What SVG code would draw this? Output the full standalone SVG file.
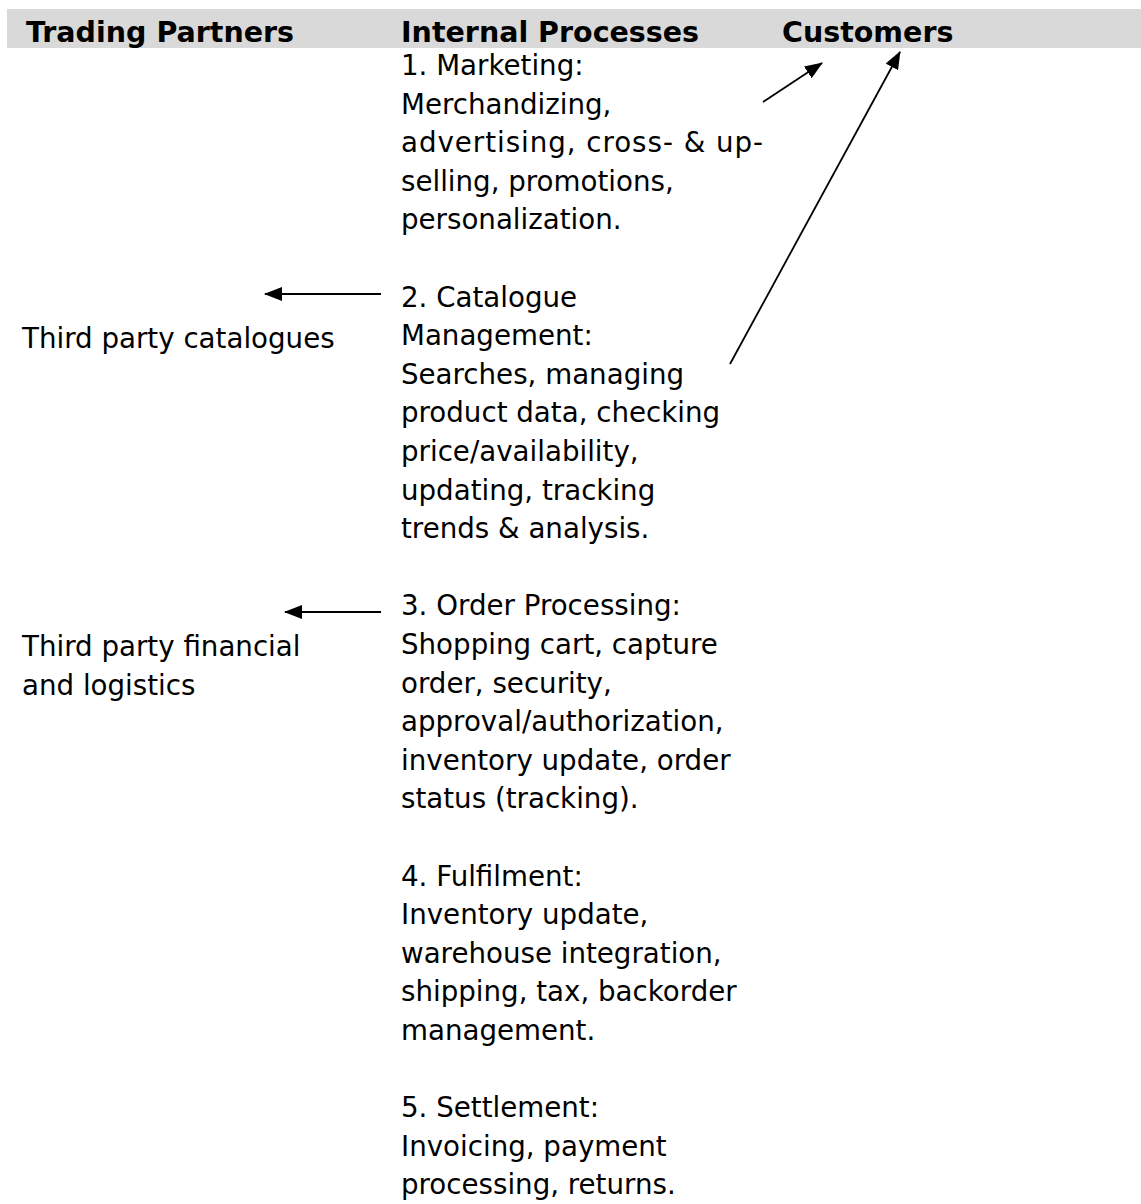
<svg xmlns="http://www.w3.org/2000/svg" width="1141" height="1204" viewBox="0 0 1141 1204">
  <defs>
    <style>
      .hdr { font-family: "DejaVu Sans", Verdana, sans-serif; font-weight: bold; font-size: 28.5px; fill: #000; }
      .txt { font-family: "DejaVu Sans", Verdana, sans-serif; font-size: 27.7px; fill: #000; }
      .conn { stroke: #000; stroke-width: 1.8; fill: none; marker-end: url(#ah); }
    </style>
    <marker id="ah" markerUnits="userSpaceOnUse" markerWidth="18" markerHeight="14" viewBox="0 0 18 14" refX="17" refY="7" orient="auto">
      <path d="M0,0 L18,7 L0,14 Z" fill="#000"/>
    </marker>
  </defs>

  <rect width="1141" height="1204" fill="#fff"/>

  <!-- column header band -->
  <g id="header">
    <rect x="7" y="9" width="1134" height="39" fill="#d9d9d9"/>
    <text class="hdr" x="26" y="42">Trading Partners</text>
    <text class="hdr" x="401" y="42">Internal Processes</text>
    <text class="hdr" x="782" y="42">Customers</text>
  </g>

  <!-- trading partners -->
  <g id="third-party-catalogues">
    <text class="txt" x="22" y="348">Third party catalogues</text>
  </g>
  <g id="third-party-financial">
    <text class="txt" x="22" y="656">Third party financial</text>
    <text class="txt" x="22" y="695">and logistics</text>
  </g>

  <!-- internal processes -->
  <g id="marketing">
    <text class="txt" x="401" y="75">1. Marketing:</text>
    <text class="txt" x="401" y="113.6">Merchandizing,</text>
    <text class="txt" x="401" y="152.2" textLength="362" lengthAdjust="spacing">advertising, cross- &amp; up-</text>
    <text class="txt" x="401" y="190.8">selling, promotions,</text>
    <text class="txt" x="401" y="229.4">personalization.</text>
  </g>
  <g id="catalogue-management">
    <text class="txt" x="401" y="306.6">2. Catalogue</text>
    <text class="txt" x="401" y="345.2">Management:</text>
    <text class="txt" x="401" y="383.8">Searches, managing</text>
    <text class="txt" x="401" y="422.4">product data, checking</text>
    <text class="txt" x="401" y="461">price/availability,</text>
    <text class="txt" x="401" y="499.6">updating, tracking</text>
    <text class="txt" x="401" y="538.2">trends &amp; analysis.</text>
  </g>
  <g id="order-processing">
    <text class="txt" x="401" y="615.4">3. Order Processing:</text>
    <text class="txt" x="401" y="654">Shopping cart, capture</text>
    <text class="txt" x="401" y="692.6">order, security,</text>
    <text class="txt" x="401" y="731.2">approval/authorization,</text>
    <text class="txt" x="401" y="769.8">inventory update, order</text>
    <text class="txt" x="401" y="808.4">status (tracking).</text>
  </g>
  <g id="fulfilment">
    <text class="txt" x="401" y="885.6">4. Fulfilment:</text>
    <text class="txt" x="401" y="924.2">Inventory update,</text>
    <text class="txt" x="401" y="962.8">warehouse integration,</text>
    <text class="txt" x="401" y="1001.4">shipping, tax, backorder</text>
    <text class="txt" x="401" y="1040">management.</text>
  </g>
  <g id="settlement">
    <text class="txt" x="401" y="1117.2">5. Settlement:</text>
    <text class="txt" x="401" y="1155.8">Invoicing, payment</text>
    <text class="txt" x="401" y="1194.4">processing, returns.</text>
  </g>

  <!-- connectors -->
  <g id="connectors">
    <line class="conn" x1="763" y1="102" x2="822" y2="63"/>
    <line class="conn" x1="730" y1="364" x2="900" y2="52"/>
    <line class="conn" x1="381" y1="294" x2="265" y2="294"/>
    <line class="conn" x1="381" y1="612" x2="285" y2="612"/>
  </g>
</svg>
